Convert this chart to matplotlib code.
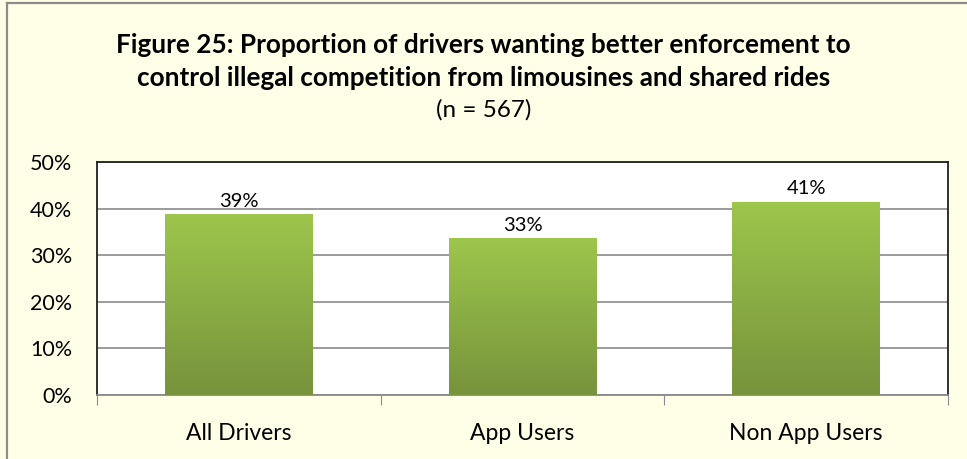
import numpy as np
import matplotlib.pyplot as plt
from matplotlib.colors import LinearSegmentedColormap
from matplotlib.lines import Line2D

# datos del grafico
categorias = ['All Drivers', 'App Users', 'Non App Users']
valores = [38.7, 33.5, 41.4]
etiquetas = ['39%', '33%', '41%']
ticks_y = [0, 10, 20, 30, 40, 50]
ticks_y_txt = ['0%', '10%', '20%', '30%', '40%', '50%']

plt.rcParams['font.family'] = ['Lato', 'DejaVu Sans']

fondo = '#FFFFE8'
fig = plt.figure(figsize=(9.67, 4.59), dpi=100, facecolor=fondo)

# marco exterior (solo se ven el borde de arriba y el de la izquierda)
fig.add_artist(Line2D([7 / 967, 7 / 967], [0, 1 - 3 / 459], transform=fig.transFigure, color='#8c8c8c', lw=1.6))
fig.add_artist(Line2D([7 / 967, 1], [1 - 3 / 459, 1 - 3 / 459], transform=fig.transFigure, color='#8c8c8c', lw=1.6))

ax = fig.add_axes([97 / 967, 1 - 395 / 459, 851 / 967, 233 / 459])
ax.set_facecolor('white')

x = np.arange(len(categorias))
barras = ax.bar(x, valores, width=0.52, color='#8db646', zorder=2)

# degradado verde en cada barra
cmap = LinearSegmentedColormap.from_list('verde', ['#77933c', '#9dc64c'])
grad = np.linspace(0, 1, 256).reshape(-1, 1)
for b in barras:
    x0 = b.get_x()
    ax.imshow(grad, extent=[x0, x0 + b.get_width(), 0, b.get_height()], origin='lower',
              aspect='auto', cmap=cmap, zorder=3, clip_path=b, clip_on=True)

for xi, v, t in zip(x, valores, etiquetas):
    ax.text(xi, v + 1.0, t, ha='center', va='bottom', fontsize=14.5, color='black')

ax.set_xlim(-0.5, len(categorias) - 0.5)
ax.set_ylim(0, 50)
ax.set_yticks(ticks_y)
ax.set_yticklabels(ticks_y_txt, fontsize=15.5)
ax.tick_params(axis='y', length=0, pad=18)
ax.yaxis.grid(True, color='#8a8a8a', lw=1.2, zorder=1)
ax.set_axisbelow(True)

ax.set_xticks(np.arange(len(categorias) + 1) - 0.5)
ax.set_xticklabels([])
ax.tick_params(axis='x', which='major', length=7, color='#8a8a8a', direction='out')
ax.set_xticks(x, minor=True)
ax.set_xticklabels(categorias, minor=True, fontsize=16.5)
ax.tick_params(axis='x', which='minor', length=0, pad=20)

for s in ax.spines.values():
    s.set_color('#202020')
    s.set_linewidth(1.3)
ax.spines['bottom'].set_color('#8a8a8a')

fig.text(0.5, 1 - 45 / 459, 'Figure 25: Proportion of drivers wanting better enforcement to',
         ha='center', va='center', fontsize=18.8, fontweight='bold')
fig.text(0.5, 1 - 78 / 459, 'control illegal competition from limousines and shared rides',
         ha='center', va='center', fontsize=18.8, fontweight='bold')
fig.text(0.5, 1 - 110 / 459, '(n = 567)', ha='center', va='center', fontsize=17.5)

plt.savefig('out.png', dpi=100, facecolor=fondo)
